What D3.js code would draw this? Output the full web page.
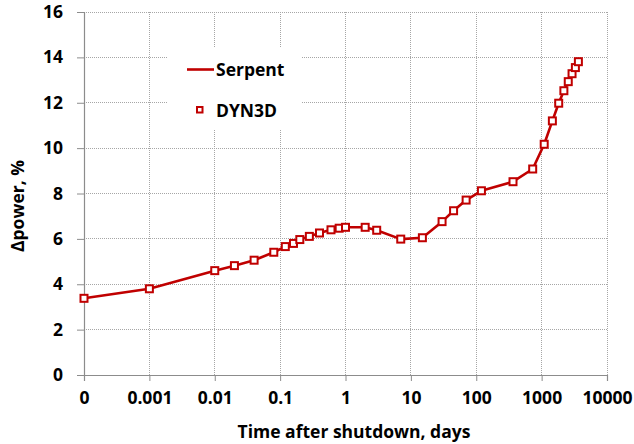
<!DOCTYPE html>
<html>
<head>
<meta charset="utf-8">
<script src="https://cdn.jsdelivr.net/npm/d3@7/dist/d3.min.js"></script>
<style>
  html, body { margin: 0; padding: 0; background: #fff; }
  svg { display: block; }
  text { font-family: "Open Sans", Lato, sans-serif; font-weight: bold; fill: #000; }
</style>
</head>
<body>
<svg id="chart" width="634" height="444"></svg>
<script>
// Time after shutdown, days (0 is drawn at the "0" tick, i.e. the 1e-4 position)
const times = [0, 0.001, 0.01, 0.02, 0.04, 0.08, 0.12, 0.16, 0.2, 0.28, 0.4, 0.6, 0.8, 1, 2, 3, 7, 15, 30, 45, 70, 120, 365, 730, 1095, 1460, 1825, 2190, 2555, 2920, 3285, 3650];
const serpentValues = [3.38, 3.80, 4.60, 4.82, 5.06, 5.41, 5.66, 5.80, 5.97, 6.11, 6.26, 6.40, 6.47, 6.51, 6.51, 6.38, 5.99, 6.05, 6.76, 7.24, 7.71, 8.12, 8.52, 9.08, 10.17, 11.20, 11.98, 12.53, 12.93, 13.28, 13.55, 13.81];
const dyn3dValues   = [3.38, 3.80, 4.60, 4.82, 5.06, 5.41, 5.66, 5.80, 5.97, 6.11, 6.26, 6.40, 6.47, 6.51, 6.51, 6.38, 5.99, 6.05, 6.76, 7.24, 7.71, 8.12, 8.52, 9.08, 10.17, 11.20, 11.98, 12.53, 12.93, 13.28, 13.55, 13.81];
const xTickValues = [0.0001, 0.001, 0.01, 0.1, 1, 10, 100, 1000, 10000];
const xTickLabels = ["0", "0.001", "0.01", "0.1", "1", "10", "100", "1000", "10000"];
const yTickValues = [0, 2, 4, 6, 8, 10, 12, 14, 16];
const seriesNames = ["Serpent", "DYN3D"];
const zeroPosition = 0.0001;

(function () {
const red = "#C00000";
const gridColor = "#A6A6A6";
const axisColor = "#8C8C8C";
const fontSize = "17.5px";
const fontFam = "'Open Sans', Lato, sans-serif";

const svg = d3.select("#chart");
const pl = 84, pr = 607, pt = 12, pb = 375;

const x = d3.scaleLog().domain([0.0001, 10000]).range([pl, pr]);
const y = d3.scaleLinear().domain([0, 16]).range([pb, pt]);
const xPos = t => x(t === 0 ? zeroPosition : t);

// Grid lines
const grid = svg.append("g");
grid.selectAll("line.v").data(xTickValues.slice(1)).enter().append("line")
  .attr("x1", d => x(d)).attr("x2", d => x(d))
  .attr("y1", pt).attr("y2", pb)
  .attr("stroke", gridColor).attr("stroke-width", 1).attr("stroke-dasharray", "1,1")
  .attr("shape-rendering", "crispEdges");
grid.selectAll("line.h").data(yTickValues.slice(1)).enter().append("line")
  .attr("x1", pl).attr("x2", pr)
  .attr("y1", d => y(d)).attr("y2", d => y(d))
  .attr("stroke", gridColor).attr("stroke-width", 1).attr("stroke-dasharray", "1,1")
  .attr("shape-rendering", "crispEdges");

// Y axis
const yAxis = d3.axisLeft(y).tickValues(yTickValues).tickSize(7).tickPadding(14).tickFormat(d3.format("d"));
const gy = svg.append("g").attr("transform", `translate(${pl},0)`).call(yAxis);
gy.select(".domain").attr("stroke", axisColor).attr("stroke-width", 1.2);
gy.selectAll(".tick line").attr("stroke", axisColor);
gy.selectAll(".tick text").style("font-size", fontSize).attr("fill", "#000")
  .style("font-family", fontFam).style("font-weight", "bold");

// X axis
const xAxis = d3.axisBottom(x).tickValues(xTickValues).tickSize(6).tickPadding(11)
  .tickFormat((d, i) => xTickLabels[i]);
const gx = svg.append("g").attr("transform", `translate(0,${pb})`).call(xAxis);
gx.select(".domain").attr("stroke", axisColor).attr("stroke-width", 1.2);
gx.selectAll(".tick line").attr("stroke", axisColor);
gx.selectAll(".tick text").style("font-size", fontSize).attr("fill", "#000")
  .style("font-family", fontFam).style("font-weight", "bold");

// Axis titles
svg.append("text").attr("x", 354).attr("y", 438).attr("text-anchor", "middle")
  .style("font-size", fontSize).text("Time after shutdown, days");
svg.append("text").attr("transform", "translate(24,206) rotate(-90)").attr("text-anchor", "middle")
  .style("font-size", fontSize).text("Δpower, %");

// Legend background (hides grid)
svg.append("rect").attr("x", 168).attr("y", 48).attr("width", 134).attr("height", 82).attr("fill", "#fff");

// Serpent line
const line = d3.line().x((d, i) => xPos(times[i])).y(d => y(d));
svg.append("path").datum(serpentValues).attr("d", line)
  .attr("fill", "none").attr("stroke", red).attr("stroke-width", 2.6).attr("stroke-linejoin", "round");

// DYN3D markers
svg.append("g").selectAll("rect").data(dyn3dValues).enter().append("rect")
  .attr("x", (d, i) => xPos(times[i]) - 3.5).attr("y", d => y(d) - 3.5)
  .attr("width", 7).attr("height", 7)
  .attr("fill", "#fff").attr("stroke", red).attr("stroke-width", 2);

// Legend
const lg = svg.append("g");
lg.append("line").attr("x1", 187).attr("x2", 214).attr("y1", 69.5).attr("y2", 69.5)
  .attr("stroke", red).attr("stroke-width", 2.6);
lg.append("text").attr("x", 216).attr("y", 76).style("font-size", fontSize).text(seriesNames[0]);
lg.append("rect").attr("x", 197).attr("y", 107).attr("width", 5.5).attr("height", 5.5)
  .attr("fill", "#fff").attr("stroke", red).attr("stroke-width", 2);
lg.append("text").attr("x", 216).attr("y", 116.5).style("font-size", fontSize).text(seriesNames[1]);
})();
</script>
</body>
</html>
